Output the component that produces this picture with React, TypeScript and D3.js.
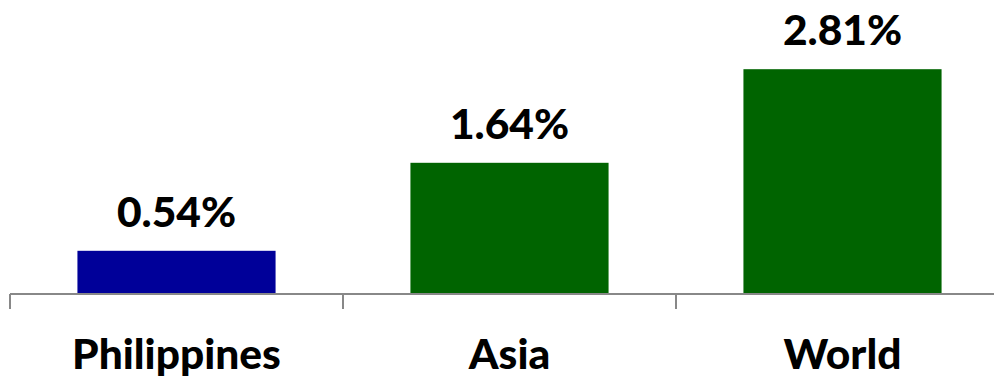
import React from "react";
import * as d3 from "d3";

const categories = ["Philippines", "Asia", "World"];
const values = [0.54, 1.64, 2.81];
const valueLabels = ["0.54%", "1.64%", "2.81%"];
const barColors = ["#000099", "#006400", "#006400"];

const W = 994;
const H = 381;
const FONT = "Lato, 'Open Sans', sans-serif";

export default function App() {
  const x = d3.scaleBand<string>().domain(categories).range([10, 1009]).padding(0);
  const y = d3.scaleLinear().domain([0, 3]).range([294, 54]);
  const bw = x.bandwidth();
  const barW = bw * 0.595;
  const edges = categories.map((c) => x(c) as number);
  return (
    <svg width={W} height={H} style={{ position: "absolute", left: 0, top: 0, background: "#fff" }}>
      {categories.map((c, i) => {
        const x0 = (x(c) as number) + (bw - barW) / 2;
        return (
          <g key={c}>
            <rect x={x0} y={y(values[i])} width={barW} height={y(0) - y(values[i])} fill={barColors[i]} />
            <text
              x={(x(c) as number) + bw / 2}
              y={y(values[i]) - 24}
              textAnchor="middle"
              fontFamily={FONT}
              fontWeight={900}
              fontSize={42.5}
              fill="#000"
            >
              {valueLabels[i]}
            </text>
            <text
              x={(x(c) as number) + bw / 2}
              y={369}
              textAnchor="middle"
              fontFamily={FONT}
              fontWeight={900}
              fontSize={42.5}
              fill="#000"
            >
              {c}
            </text>
          </g>
        );
      })}
      <line x1={10} x2={W} y1={y(0)} y2={y(0)} stroke="#888" strokeWidth={2} />
      {edges.map((e, i) => (
        <line key={i} x1={e} x2={e} y1={y(0)} y2={309} stroke="#888" strokeWidth={2} />
      ))}
    </svg>
  );
}
